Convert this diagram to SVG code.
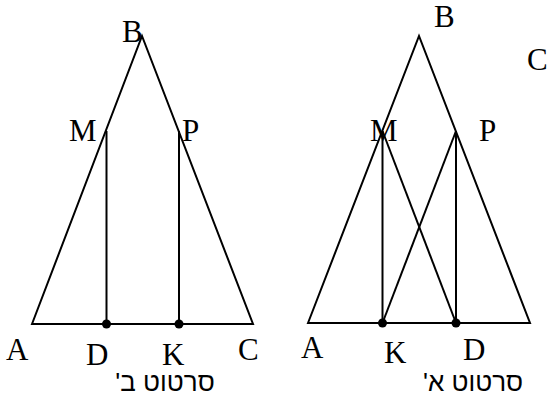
<svg xmlns="http://www.w3.org/2000/svg" width="550" height="396" viewBox="0 0 550 396">
<style>
.ln{stroke:#000;stroke-width:2;fill:none;stroke-linejoin:miter}
.dot{fill:#000}
.lbl{font-family:"Liberation Serif","Times New Roman",serif;font-size:31px;fill:#000}
.cap{font-family:"Liberation Sans",Arial,sans-serif;font-size:26px;fill:#000;direction:rtl;text-anchor:middle}
</style>
<rect width="550" height="396" fill="#fff"/>
<g id="connectors">
<polygon class="ln" points="32,324 142,36 253,324"/>
<line class="ln" x1="106.5" y1="131" x2="106.5" y2="324"/>
<line class="ln" x1="179" y1="131" x2="179" y2="324"/>
<polygon class="ln" points="308,323 419,36 530,323"/>
<line class="ln" x1="382.5" y1="131" x2="382.5" y2="323"/>
<line class="ln" x1="456" y1="131" x2="456" y2="323"/>
<line class="ln" x1="382.5" y1="131" x2="456" y2="323"/>
<line class="ln" x1="456" y1="131" x2="382.5" y2="323"/>
</g>
<g id="fig-b">
<g id="L-B"><text class="lbl" x="122" y="42">B</text></g>
<g id="L-M"><text class="lbl" x="69" y="141">M</text></g>
<g id="L-P"><text class="lbl" x="182" y="141">P</text></g>
<g id="L-A"><text class="lbl" x="6" y="360">A</text></g>
<g id="L-D"><circle class="dot" cx="106.5" cy="324" r="4.5"/><text class="lbl" x="86" y="365">D</text></g>
<g id="L-K"><circle class="dot" cx="179" cy="324" r="4.5"/><text class="lbl" x="162" y="365">K</text></g>
<g id="L-C"><text class="lbl" x="238" y="360">C</text></g>
<g id="L-cap"><text class="cap" x="165" y="391">סרטוט ב'</text></g>
</g>
<g id="fig-a">
<g id="R-B"><text class="lbl" x="434" y="27">B</text></g>
<g id="R-C"><text class="lbl" x="527" y="70">C</text></g>
<g id="R-M"><text class="lbl" x="370" y="141">M</text></g>
<g id="R-P"><text class="lbl" x="479" y="141">P</text></g>
<g id="R-A"><text class="lbl" x="301" y="358">A</text></g>
<g id="R-K"><circle class="dot" cx="382.5" cy="323" r="4.5"/><text class="lbl" x="384" y="363">K</text></g>
<g id="R-D"><circle class="dot" cx="456" cy="323" r="4.5"/><text class="lbl" x="463" y="360">D</text></g>
<g id="R-cap"><text class="cap" x="473" y="391">סרטוט א'</text></g>
</g>
</svg>
